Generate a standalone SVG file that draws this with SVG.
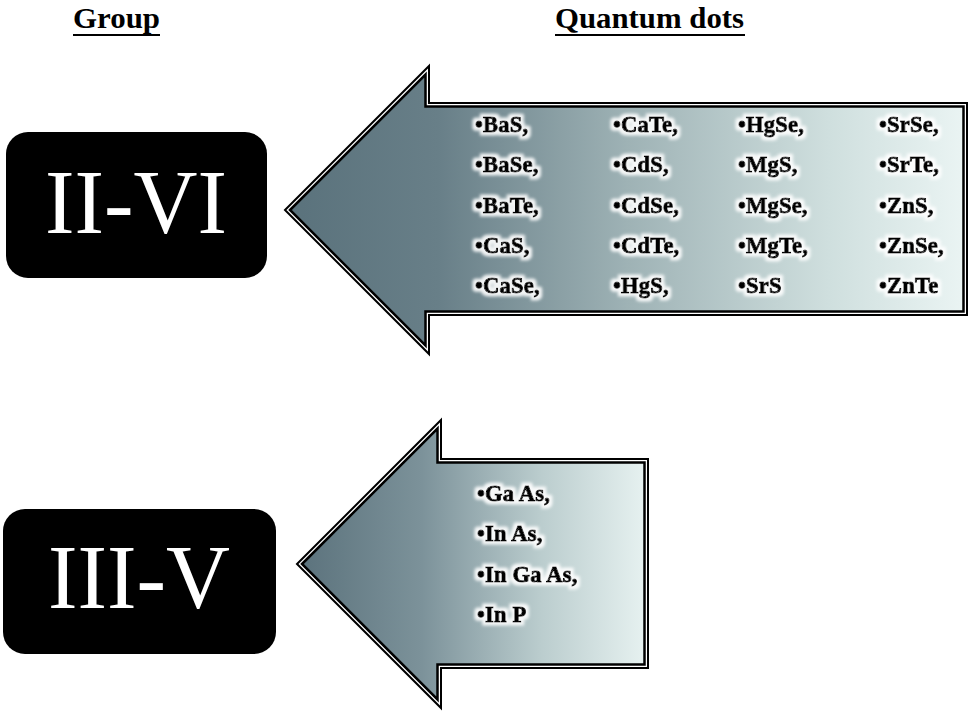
<svg xmlns="http://www.w3.org/2000/svg" width="969" height="716" viewBox="0 0 969 716">
<style>
.title{font-family:"Liberation Serif","Times New Roman",serif;font-weight:bold;font-size:30px;fill:#000;}
.uline{stroke:#000;stroke-width:2;}
.grp{fill:#000;}
.grpText{font-family:"Liberation Serif","Times New Roman",serif;font-size:92px;fill:#fff;text-anchor:middle;}
.outer{fill:#fff;stroke:#000;stroke-width:2;stroke-linejoin:miter;}
.inner{stroke:#000;stroke-width:2.5;stroke-linejoin:miter;}
.qd{font-family:"Liberation Serif","Times New Roman",serif;font-weight:bold;font-size:22.5px;fill:#000;stroke:#000;stroke-width:1;letter-spacing:0.2px;}
</style>
<defs>
<linearGradient id="gTop" x1="0" y1="0" x2="1" y2="0">
<stop offset="0" stop-color="#5a727c"/>
<stop offset="0.22" stop-color="#687f88"/>
<stop offset="0.5" stop-color="#9eb2b5"/>
<stop offset="0.8" stop-color="#cfdfde"/>
<stop offset="1" stop-color="#eaf4f3"/>
</linearGradient>
<linearGradient id="gBot" x1="0" y1="0" x2="1" y2="0">
<stop offset="0" stop-color="#5c737d"/>
<stop offset="0.35" stop-color="#7c929a"/>
<stop offset="0.7" stop-color="#bbcdce"/>
<stop offset="1" stop-color="#e6f1f0"/>
</linearGradient>
<filter id="glow" x="-20%" y="-40%" width="140%" height="180%">
<feMorphology in="SourceAlpha" operator="dilate" radius="2.5" result="d"/>
<feFlood flood-color="#ffffff" flood-opacity="0.9"/>
<feComposite in2="d" operator="in" result="w"/>
<feGaussianBlur in="w" stdDeviation="1.8" result="wb"/>
<feMerge><feMergeNode in="wb"/><feMergeNode in="SourceGraphic"/></feMerge>
</filter>
</defs>
<rect width="969" height="716" fill="#fff"/>

<g id="titles">
<text class="title" x="73" y="28" textLength="87" lengthAdjust="spacingAndGlyphs">Group</text>
<line class="uline" x1="73" y1="35" x2="160" y2="35"/>
<text class="title" x="555" y="28" textLength="189" lengthAdjust="spacingAndGlyphs">Quantum dots</text>
<line class="uline" x1="555" y1="35" x2="745" y2="35"/>
</g>

<g id="group-II-VI">
<rect class="grp" x="6" y="132" width="261" height="146" rx="22" ry="22"/>
<text class="grpText" x="136" y="233" textLength="182" lengthAdjust="spacingAndGlyphs">II-VI</text>
</g>

<g id="group-III-V">
<rect class="grp" x="3" y="509" width="273" height="145" rx="22" ry="22"/>
<text class="grpText" x="139" y="608" textLength="182" lengthAdjust="spacingAndGlyphs">III-V</text>
</g>

<g id="connectors">
<g id="arrow-II-VI">
<polygon class="outer" points="285,210 429,66 429,103 967,103 967,315 429,315 429,354"/>
<polygon class="inner" fill="url(#gTop)" points="290,210 425.5,74.5 425.5,106.5 963.5,106.5 963.5,311.5 425.5,311.5 425.5,345.5"/>
</g>
<g id="arrow-III-V">
<polygon class="outer" points="297,564 441,420 441,459 648,459 648,668 441,668 441,708"/>
<polygon class="inner" fill="url(#gBot)" points="302,564 437.5,428.5 437.5,462.5 644.5,462.5 644.5,664.5 437.5,664.5 437.5,699.5"/>
</g>
</g>

<g id="qd-II-VI" filter="url(#glow)">
<text class="qd" x="475" y="132">•BaS,</text>
<text class="qd" x="475" y="172">•BaSe,</text>
<text class="qd" x="475" y="213">•BaTe,</text>
<text class="qd" x="475" y="253">•CaS,</text>
<text class="qd" x="475" y="293">•CaSe,</text>
<text class="qd" x="613" y="132">•CaTe,</text>
<text class="qd" x="613" y="172">•CdS,</text>
<text class="qd" x="613" y="213">•CdSe,</text>
<text class="qd" x="613" y="253">•CdTe,</text>
<text class="qd" x="613" y="293">•HgS,</text>
<text class="qd" x="738" y="132">•HgSe,</text>
<text class="qd" x="738" y="172">•MgS,</text>
<text class="qd" x="738" y="213">•MgSe,</text>
<text class="qd" x="738" y="253">•MgTe,</text>
<text class="qd" x="738" y="293">•SrS</text>
<text class="qd" x="879" y="132">•SrSe,</text>
<text class="qd" x="879" y="172">•SrTe,</text>
<text class="qd" x="879" y="213">•ZnS,</text>
<text class="qd" x="879" y="253">•ZnSe,</text>
<text class="qd" x="879" y="293">•ZnTe</text>
</g>

<g id="qd-III-V" filter="url(#glow)">
<text class="qd" x="477" y="501">•Ga As,</text>
<text class="qd" x="477" y="541">•In As,</text>
<text class="qd" x="477" y="582">•In Ga As,</text>
<text class="qd" x="477" y="622">•In P</text>
</g>
</svg>
